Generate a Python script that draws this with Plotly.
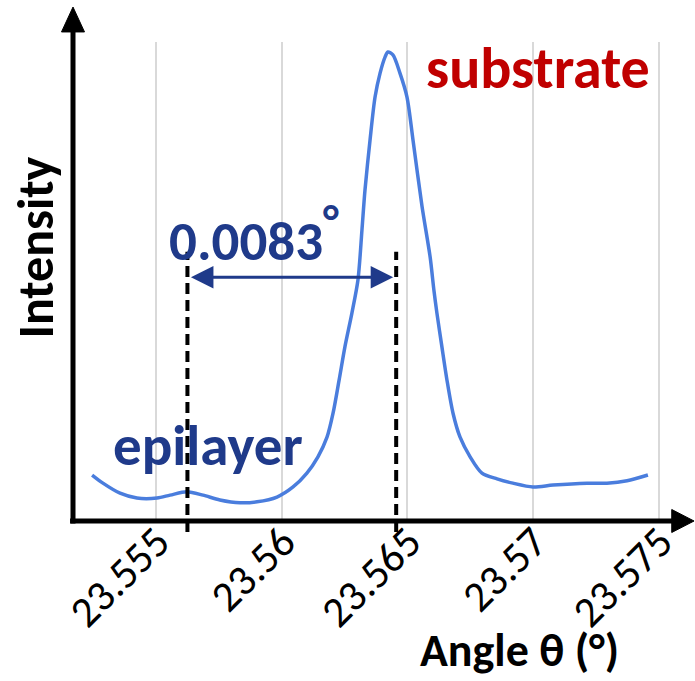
import plotly.graph_objects as go

# ---- data ----
angle = [23.55246, 23.55289, 23.55357, 23.55424, 23.55504, 23.55556, 23.55623, 23.55687,
         23.55754, 23.55834, 23.55902, 23.55981, 23.56045, 23.56100, 23.56144, 23.56180,
         23.56204, 23.56228, 23.56251, 23.56279, 23.56303, 23.56319, 23.56331, 23.56351,
         23.56371, 23.56391, 23.56411, 23.56422, 23.56442, 23.56470, 23.56498, 23.56522,
         23.56558, 23.56590, 23.56605, 23.56617, 23.56637, 23.56657, 23.56681, 23.56709,
         23.56749, 23.56796, 23.56856, 23.56919, 23.56999, 23.57079, 23.57214, 23.57293,
         23.57373, 23.57456]
intensity = [0.096, 0.079, 0.058, 0.048, 0.048, 0.054, 0.061, 0.054,
             0.044, 0.038, 0.040, 0.050, 0.071, 0.100, 0.134, 0.175,
             0.225, 0.294, 0.363, 0.434, 0.503, 0.608, 0.691, 0.795,
             0.885, 0.935, 0.969, 0.979, 0.973, 0.935, 0.885, 0.795,
             0.656, 0.551, 0.482, 0.434, 0.363, 0.294, 0.225, 0.175,
             0.134, 0.100, 0.088, 0.079, 0.071, 0.075, 0.079, 0.079,
             0.084, 0.096]

tick_vals = [23.555, 23.56, 23.565, 23.57, 23.575]
tick_text = ["23.555", "23.56", "23.565", "23.57", "23.575"]

epi_pos = 23.55625      # epilayer peak marker
sub_pos = 23.56455      # substrate peak marker
separation_label = "0.0083"
arrow_level = 0.509

x_title = "Angle θ (°)"
y_title = "Intensity"
label_sub = "substrate"
label_epi = "epilayer"

# ---- styling ----
FONT = "Carlito, Lato, 'Open Sans', sans-serif"
BLUE = "#4a7ddd"
NAVY = "#1f3a8a"
RED = "#c00000"
GRID = "#d9d9d9"

fig = go.Figure()
fig.add_trace(go.Scatter(x=angle, y=intensity, mode="lines",
                         line=dict(color=BLUE, width=3.5, shape="spline", smoothing=0.8),
                         hoverinfo="skip", showlegend=False))

fig.update_layout(
    width=695, height=681,
    margin=dict(l=73, r=35, t=42, b=160),
    paper_bgcolor="white", plot_bgcolor="white",
    showlegend=False,
    xaxis=dict(range=[23.5517, 23.57504], tickvals=tick_vals, ticktext=tick_text,
               tickangle=-45, tickfont=dict(family=FONT, size=43, color="black"),
               ticklabelstandoff=-14, ticklabelshift=1,
               showgrid=True, gridcolor=GRID, gridwidth=2, zeroline=False,
               showline=False, ticks=""),
    yaxis=dict(range=[0, 1], tickvals=[1], showticklabels=False, showgrid=True,
               gridcolor=GRID, gridwidth=2, zeroline=False, showline=False, ticks=""),
)

shapes = []
# axes with arrows
shapes.append(dict(type="line", xref="paper", yref="paper", x0=0, x1=0, y0=-0.005, y1=1.03,
                   line=dict(color="black", width=5)))
shapes.append(dict(type="path", xref="paper", yref="paper",
                   path="M -0.0196,1.021 L 0.0196,1.021 L 0,1.073 Z",
                   fillcolor="black", line=dict(color="black", width=1)))
shapes.append(dict(type="line", xref="paper", yref="paper", x0=-0.005, x1=1.03, y0=0, y1=0,
                   line=dict(color="black", width=5)))
shapes.append(dict(type="path", xref="paper", yref="paper",
                   path="M 1.020,-0.024 L 1.020,0.024 L 1.058,0 Z",
                   fillcolor="black", line=dict(color="black", width=1)))
# dashed peak markers
for xv in (epi_pos, sub_pos):
    shapes.append(dict(type="line", xref="x", yref="paper", x0=xv, x1=xv, y0=-0.023, y1=0.562,
                       line=dict(color="black", width=4, dash="11px,6px")))
fig.update_layout(shapes=shapes)

ann = []
ann.append(dict(x=sub_pos, y=arrow_level, ax=epi_pos, ay=arrow_level, xref="x", yref="y",
                axref="x", ayref="y", text="", showarrow=True, arrowside="end+start",
                arrowhead=2, startarrowhead=2, arrowsize=1.5, startarrowsize=1.5,
                arrowwidth=3, arrowcolor=NAVY, standoff=3, startstandoff=2))
ann.append(dict(x=0.160, y=0.600, xref="paper", yref="paper", xanchor="left", yanchor="middle",
                text="<b>" + separation_label + "<sup><span style='font-size:46px'>°</span></sup></b>",
                showarrow=False, font=dict(family=FONT, size=55, color=NAVY)))
ann.append(dict(x=0.598, y=0.944, xref="paper", yref="paper", xanchor="left", yanchor="middle",
                text="<b>" + label_sub + "</b>", showarrow=False,
                font=dict(family=FONT, size=58, color=RED)))
ann.append(dict(x=0.064, y=0.158, xref="paper", yref="paper", xanchor="left", yanchor="middle",
                text="<b>" + label_epi + "</b>", showarrow=False,
                font=dict(family=FONT, size=57, color=NAVY)))
ann.append(dict(x=-0.064, y=0.572, xref="paper", yref="paper", xanchor="center", yanchor="middle",
                text="<b>" + y_title + "</b>", textangle=-90, showarrow=False,
                font=dict(family=FONT, size=50, color="black")))
ann.append(dict(x=0.760, y=-0.270, xref="paper", yref="paper", xanchor="center", yanchor="middle",
                text="<b>" + x_title + "</b>", showarrow=False,
                font=dict(family=FONT, size=46, color="black")))
fig.update_layout(annotations=ann)

fig.write_html("out.html")
